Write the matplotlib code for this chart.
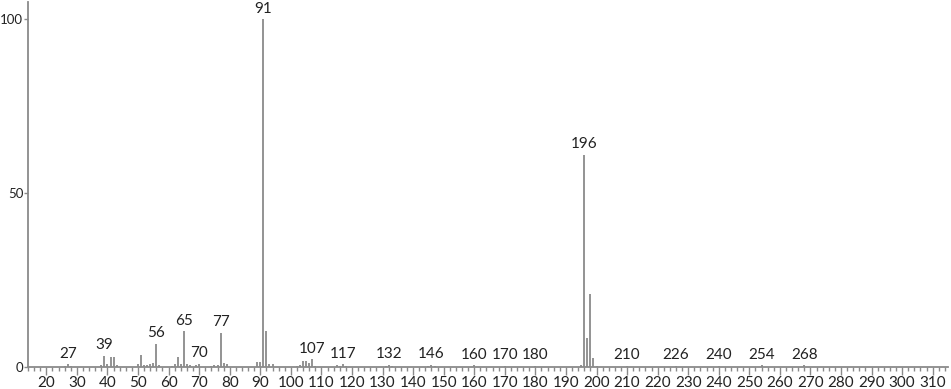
import numpy as np
import matplotlib
matplotlib.use("Agg")
import matplotlib.pyplot as plt
from matplotlib.ticker import MultipleLocator

plt.rcParams["font.family"] = ["Lato", "DejaVu Sans"]

# m/z and relative intensity
mz = [26, 27, 28, 38, 39, 40, 41, 42, 43, 50, 51, 52, 53, 54, 55, 56, 57,
      61, 62, 63, 64, 65, 66, 67, 69, 70, 74, 75, 76, 77, 78, 79,
      89, 90, 91, 92, 93, 94, 102, 103, 104, 105, 106, 107, 108,
      115, 116, 117, 118, 131, 132, 133, 145, 146, 147, 160, 170, 180,
      195, 196, 197, 198, 199, 200, 210, 226, 240, 254, 268]
intensity = [0.4, 0.8, 0.3, 0.5, 3.2, 0.8, 3.0, 2.8, 0.5, 0.8, 3.5, 0.5, 0.6, 1.0, 1.2, 6.7, 0.5,
             0.4, 1.0, 3.0, 1.0, 10.3, 1.0, 0.5, 0.5, 1.0, 0.4, 0.5, 0.5, 9.8, 1.2, 1.0,
             1.5, 1.5, 100.0, 10.3, 0.8, 1.0, 0.4, 0.5, 1.7, 1.7, 1.2, 2.3, 0.4,
             0.5, 0.4, 0.8, 0.4, 0.3, 0.7, 0.3, 0.3, 0.6, 0.3, 0.5, 0.3, 0.3,
             0.5, 61.0, 8.4, 21.0, 2.7, 0.3, 0.3, 0.3, 0.3, 0.5, 0.5]

# peaks that carry a label
labelled = [27, 39, 56, 65, 70, 77, 91, 107, 117, 132, 146, 160, 170, 180,
            196, 210, 226, 240, 254, 268]

GRAY = "#8a8a8a"

fig = plt.figure(figsize=(9.51, 3.89), dpi=100)
ax = fig.add_axes([28 / 951, 22 / 389, 920 / 951, 365 / 389])

ax.vlines(mz, 0, intensity, color=GRAY, lw=1.3)

lookup = dict(zip(mz, intensity))
for m in labelled:
    ax.annotate(str(m), (m, lookup[m]), xytext=(0, 2.5), textcoords="offset points",
                ha="center", va="bottom", fontsize=11, color="#222222")

ax.set_xlim(14, 315)
ax.set_ylim(0, 105)
ax.xaxis.set_major_locator(MultipleLocator(10))
ax.xaxis.set_minor_locator(MultipleLocator(2))
ax.set_yticks([0, 50, 100])

for s in ["top", "right"]:
    ax.spines[s].set_visible(False)
for s in ["left", "bottom"]:
    ax.spines[s].set_color(GRAY)
    ax.spines[s].set_linewidth(1.3)

ax.tick_params(axis="x", which="major", length=6, width=1, color=GRAY,
               labelsize=11, pad=0.5, labelcolor="#222222")
ax.tick_params(axis="x", which="minor", length=3, width=1, color=GRAY)
ax.tick_params(axis="y", length=3, width=1, color=GRAY, labelsize=9.5,
               pad=0.5, labelcolor="#222222")

fig.savefig("out.png", dpi=100, facecolor="white")
